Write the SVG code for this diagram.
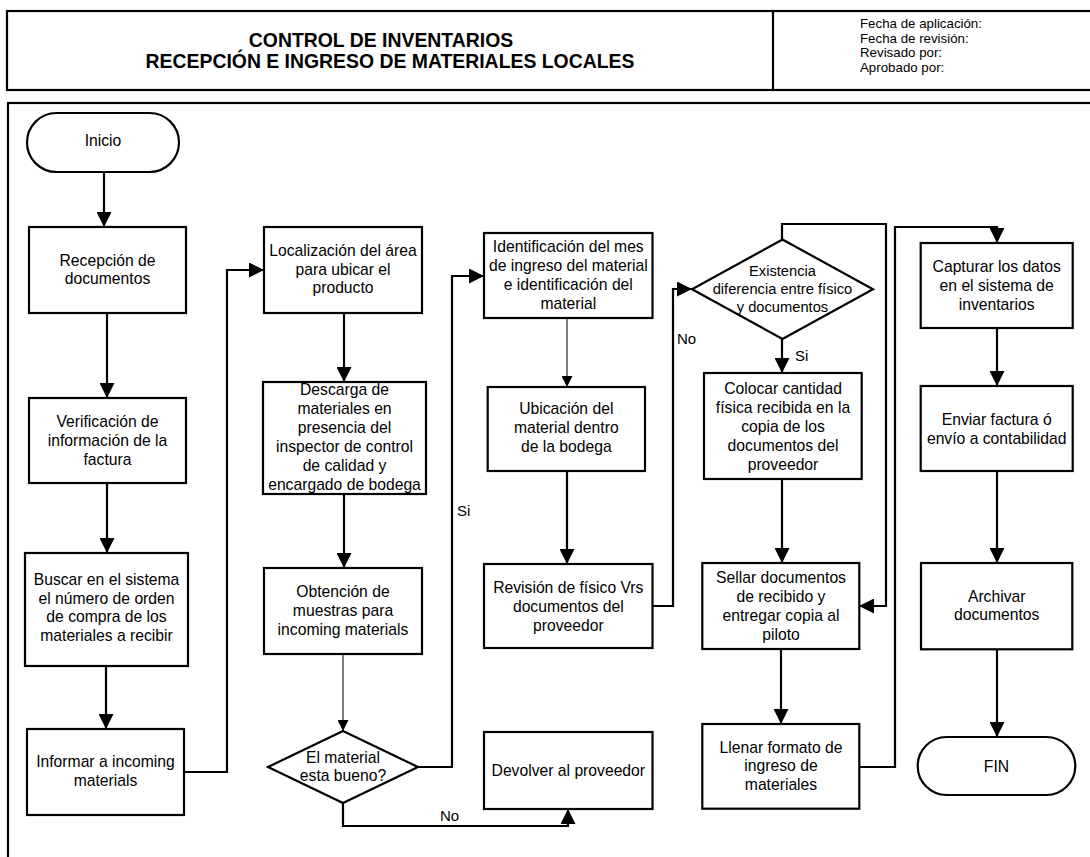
<svg xmlns="http://www.w3.org/2000/svg" width="1090" height="857" viewBox="0 0 1090 857">
<style>
  .frame{fill:none;stroke:#000;stroke-width:2.2}
  .box{fill:#fff;stroke:#000;stroke-width:2.2}
  .t{font-family:"Liberation Sans",Arial,sans-serif;font-size:15.7px;fill:#000;text-anchor:middle}
  .ts{font-family:"Liberation Sans",Arial,sans-serif;font-size:14.7px;fill:#000;text-anchor:middle}
  .lbl{font-family:"Liberation Sans",Arial,sans-serif;font-size:15px;fill:#000}
  .title{font-family:"Liberation Sans",Arial,sans-serif;font-size:19.4px;font-weight:bold;fill:#000;text-anchor:middle}
  .hdr{font-family:"Liberation Sans",Arial,sans-serif;font-size:13.3px;fill:#000}
  .c{fill:none;stroke:#000;stroke-width:2.2}
  .cthin{fill:none;stroke:#000;stroke-width:1}
</style>
<defs>
  <marker id="ah" markerUnits="userSpaceOnUse" markerWidth="15" markerHeight="15" viewBox="0 0 14 14" refX="14" refY="7" orient="auto">
    <path d="M0,0 L14,7 L0,14 z" fill="#000"/>
  </marker>
  <marker id="ahs" markerUnits="userSpaceOnUse" markerWidth="11" markerHeight="11" viewBox="0 0 10 10" refX="10" refY="5" orient="auto">
    <path d="M0,0 L10,5 L0,10 z" fill="#000"/>
  </marker>
</defs>
<rect width="1090" height="857" fill="#fff"/>

<g id="header">
  <rect class="frame" x="7" y="11" width="1095" height="79"/>
  <line class="frame" x1="773" y1="11" x2="773" y2="90"/>
  <text class="title" x="381" y="47">CONTROL DE INVENTARIOS</text>
  <text class="title" x="390" y="68">RECEPCIÓN E INGRESO DE MATERIALES LOCALES</text>
  <text class="hdr" x="860" y="28">Fecha de aplicación:</text>
  <text class="hdr" x="860" y="42.5">Fecha de revisión:</text>
  <text class="hdr" x="860" y="57">Revisado por:</text>
  <text class="hdr" x="860" y="72">Aprobado por:</text>
</g>
<g id="body-frame">
  <rect class="frame" x="8" y="103" width="1095" height="770"/>
</g>

<g id="connectors">
  <path class="c" d="M104,172 V227" marker-end="url(#ah)"/>
  <path class="c" d="M107,313 V398" marker-end="url(#ah)"/>
  <path class="c" d="M107,483 V553" marker-end="url(#ah)"/>
  <path class="c" d="M106,666 V729" marker-end="url(#ah)"/>
  <path class="c" d="M184,772 H227 V270 H264" marker-end="url(#ah)"/>
  <path class="c" d="M344,313 V382" marker-end="url(#ah)"/>
  <path class="c" d="M344,494 V568" marker-end="url(#ah)"/>
  <path class="cthin" d="M343,654 V731" marker-end="url(#ahs)"/>
  <path class="c" d="M418,767 H452 V276 H484" marker-end="url(#ah)"/>
  <path class="c" d="M343,803 V826 H568 V809" marker-end="url(#ah)"/>
  <path class="cthin" d="M567,318 V387" marker-end="url(#ahs)"/>
  <path class="c" d="M567,471 V564" marker-end="url(#ah)"/>
  <path class="c" d="M653,606 H673 V289 H692" marker-end="url(#ah)"/>
  <path class="c" d="M782,239 V224 H886 V606 H859" marker-end="url(#ah)"/>
  <path class="c" d="M782,339 V373" marker-end="url(#ah)"/>
  <path class="c" d="M782,479 V563" marker-end="url(#ah)"/>
  <path class="c" d="M781,649 V724" marker-end="url(#ah)"/>
  <path class="c" d="M859,767 H895 V227 H997 V243" marker-end="url(#ah)"/>
  <path class="c" d="M997,328 V386" marker-end="url(#ah)"/>
  <path class="c" d="M997,471 V563" marker-end="url(#ah)"/>
  <path class="c" d="M997,649 V737" marker-end="url(#ah)"/>
  <text class="lbl" x="457" y="516">Si</text>
  <text class="lbl" x="440" y="821">No</text>
  <text class="lbl" x="677" y="344">No</text>
  <text class="lbl" x="795" y="361">Si</text>
</g>

<g id="inicio">
  <rect class="box" x="27" y="113" width="152" height="59" rx="29.5" ry="29.5"/>
  <text class="t" x="103" y="146">Inicio</text>
</g>
<g id="recepcion">
  <rect class="box" x="29" y="227" width="157" height="86"/>
  <text class="t" x="107.5" y="265.7">Recepción de</text>
  <text class="t" x="107.5" y="284.4">documentos</text>
</g>
<g id="verificacion">
  <rect class="box" x="29" y="398" width="157" height="85"/>
  <text class="t" x="107.5" y="426.7">Verificación de</text>
  <text class="t" x="107.5" y="445.7">información de la</text>
  <text class="t" x="107.5" y="464.7">factura</text>
</g>
<g id="buscar">
  <rect class="box" x="25" y="553" width="163" height="113"/>
  <text class="t" x="106.5" y="585">Buscar en el sistema</text>
  <text class="t" x="106.5" y="603.7">el número de orden</text>
  <text class="t" x="106.5" y="622.4">de compra de los</text>
  <text class="t" x="106.5" y="641.1">materiales a recibir</text>
</g>
<g id="informar">
  <rect class="box" x="27" y="729" width="157" height="86"/>
  <text class="t" x="105.5" y="767.3">Informar a incoming</text>
  <text class="t" x="105.5" y="786">materials</text>
</g>
<g id="localizacion">
  <rect class="box" x="264" y="227" width="158" height="86"/>
  <text class="t" x="343" y="255.7">Localización del área</text>
  <text class="t" x="343" y="274.5">para ubicar el</text>
  <text class="t" x="343" y="293.3">producto</text>
</g>
<g id="descarga">
  <rect class="box" x="263" y="382" width="163" height="112"/>
  <text class="t" x="344.5" y="395">Descarga de</text>
  <text class="t" x="344.5" y="413.9">materiales en</text>
  <text class="t" x="344.5" y="432.8">presencia del</text>
  <text class="t" x="344.5" y="451.7">inspector de control</text>
  <text class="t" x="344.5" y="470.6">de calidad y</text>
  <text class="t" x="344.5" y="489.5">encargado de bodega</text>
</g>
<g id="obtencion">
  <rect class="box" x="264" y="568" width="158" height="86"/>
  <text class="t" x="343" y="596.7">Obtención de</text>
  <text class="t" x="343" y="615.8">muestras para</text>
  <text class="t" x="343" y="634.9">incoming materials</text>
</g>
<g id="decision-material">
  <polygon class="box" points="343,731 418,767 343,803 268,767"/>
  <text class="t" x="343" y="762.7">El material</text>
  <text class="t" x="343" y="780.7">esta bueno?</text>
</g>
<g id="devolver">
  <rect class="box" x="484" y="732" width="168.5" height="77"/>
  <text class="t" x="568.3" y="776">Devolver al proveedor</text>
</g>
<g id="identificacion">
  <rect class="box" x="484" y="233" width="168.5" height="85"/>
  <text class="t" x="568.3" y="251.7">Identificación del mes</text>
  <text class="t" x="568.3" y="270.8">de ingreso del material</text>
  <text class="t" x="568.3" y="289.9">e identificación del</text>
  <text class="t" x="568.3" y="309">material</text>
</g>
<g id="ubicacion">
  <rect class="box" x="487.7" y="387" width="157.3" height="84"/>
  <text class="t" x="566.3" y="414.3">Ubicación del</text>
  <text class="t" x="566.3" y="433.1">material dentro</text>
  <text class="t" x="566.3" y="451.9">de la bodega</text>
</g>
<g id="revision">
  <rect class="box" x="484" y="564" width="168.5" height="84"/>
  <text class="t" x="568.3" y="592.7">Revisión de físico Vrs</text>
  <text class="t" x="568.3" y="611.6">documentos del</text>
  <text class="t" x="568.3" y="630.5">proveedor</text>
</g>
<g id="decision-diferencia">
  <polygon class="box" points="782.5,239.5 873,289.3 782.5,339 692,289.3"/>
  <text class="ts" x="782.5" y="275.7">Existencia</text>
  <text class="ts" x="782.5" y="293.8">diferencia entre físico</text>
  <text class="ts" x="782.5" y="311.9">y documentos</text>
</g>
<g id="colocar">
  <rect class="box" x="704" y="373" width="157.7" height="106"/>
  <text class="t" x="783" y="394.3">Colocar cantidad</text>
  <text class="t" x="783" y="413.2">física recibida en la</text>
  <text class="t" x="783" y="432.1">copia de los</text>
  <text class="t" x="783" y="451">documentos del</text>
  <text class="t" x="783" y="469.9">proveedor</text>
</g>
<g id="sellar">
  <rect class="box" x="702.3" y="563" width="157" height="86"/>
  <text class="t" x="781" y="583.3">Sellar documentos</text>
  <text class="t" x="781" y="602.2">de recibido y</text>
  <text class="t" x="781" y="621.1">entregar copia al</text>
  <text class="t" x="781" y="640">piloto</text>
</g>
<g id="llenar">
  <rect class="box" x="702.3" y="724" width="157" height="84.7"/>
  <text class="t" x="781" y="752.7">Llenar formato de</text>
  <text class="t" x="781" y="771.4">ingreso de</text>
  <text class="t" x="781" y="790.1">materiales</text>
</g>
<g id="capturar">
  <rect class="box" x="920.7" y="243" width="152" height="85"/>
  <text class="t" x="996.7" y="271.7">Capturar los datos</text>
  <text class="t" x="996.7" y="290.7">en el sistema de</text>
  <text class="t" x="996.7" y="309.7">inventarios</text>
</g>
<g id="enviar">
  <rect class="box" x="920.7" y="386" width="152" height="85"/>
  <text class="t" x="996.7" y="425">Enviar factura ó</text>
  <text class="t" x="996.7" y="443.5">envío a contabilidad</text>
</g>
<g id="archivar">
  <rect class="box" x="921" y="563" width="151.3" height="86.3"/>
  <text class="t" x="996.7" y="601.7">Archivar</text>
  <text class="t" x="996.7" y="620.4">documentos</text>
</g>
<g id="fin">
  <rect class="box" x="917.7" y="737" width="157.6" height="58" rx="29" ry="29"/>
  <text class="t" x="996.5" y="771.7">FIN</text>
</g>
</svg>
